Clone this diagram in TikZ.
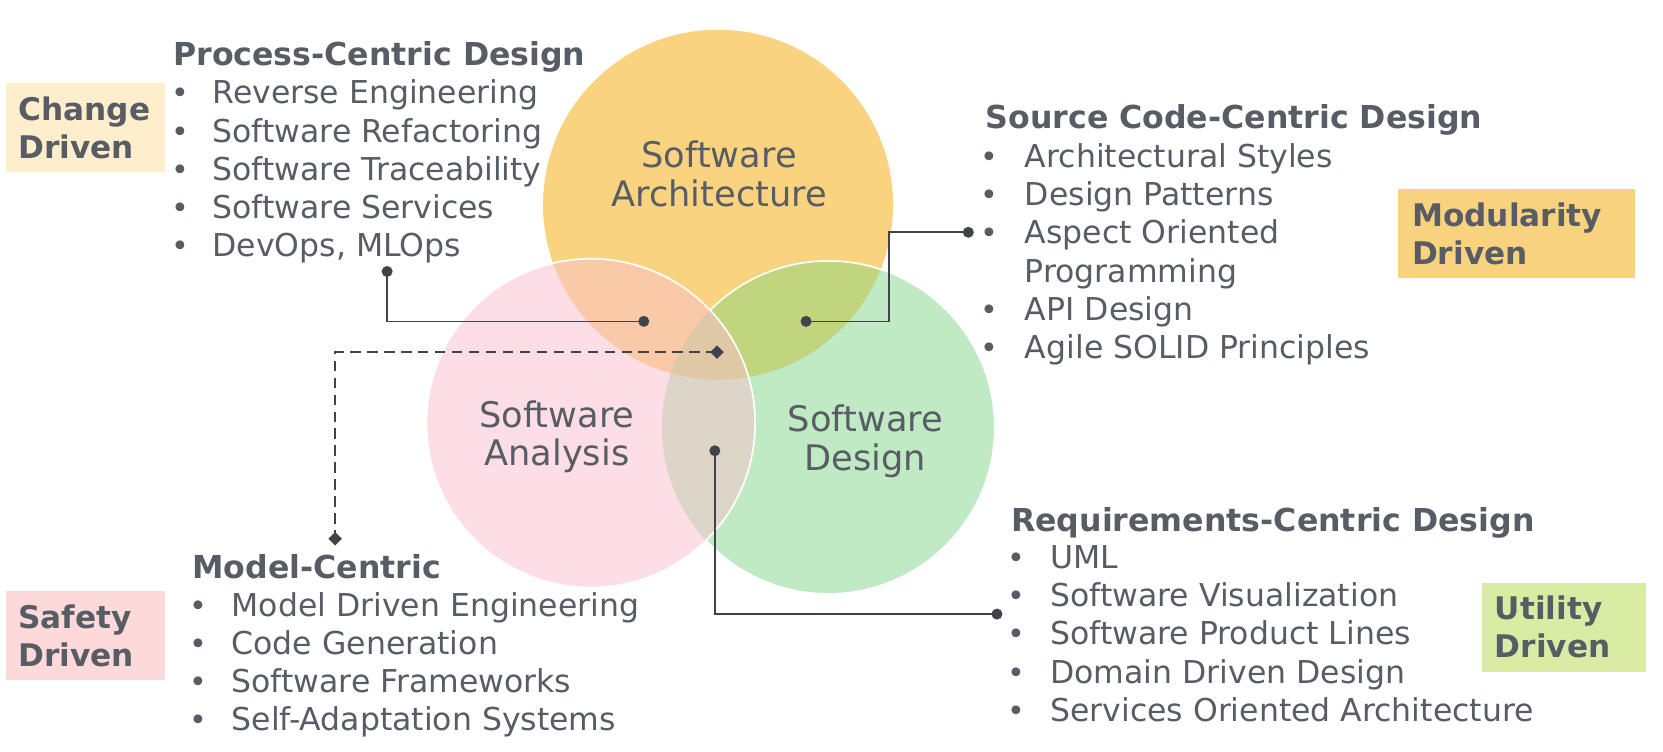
\documentclass[tikz,border=0pt]{standalone}
\usepackage{fontspec}
\setmainfont{DejaVu Sans}
\usetikzlibrary{shapes.geometric}
\definecolor{txt}{HTML}{585D65}
\definecolor{lnk}{HTML}{40444A}
\definecolor{cArch}{HTML}{FAD380}
\definecolor{cAna}{HTML}{FDDEE6}
\definecolor{cDes}{HTML}{C0EAC3}
\definecolor{cAA}{HTML}{FAC9A7}
\definecolor{cAD}{HTML}{C1D47E}
\definecolor{cNA}{HTML}{DED5C9}
\definecolor{cTri}{HTML}{DEC8A6}
\definecolor{bxChange}{HTML}{FEEECB}
\definecolor{bxMod}{HTML}{F9D27F}
\definecolor{bxSafe}{HTML}{FDD9D9}
\definecolor{bxUtil}{HTML}{DAEBA3}
\def\rArch{82.5pt}
\def\rAna{77.5pt}
\def\rDes{78.5pt}
\begin{document}
\begin{tikzpicture}[x=0.5pt,y=-0.5pt,
  itm/.style={anchor=base west,inner sep=0pt,text=txt,font=\fontsize{14.85}{18}\selectfont},
  bul/.style={anchor=base,inner sep=0pt,text=txt,font=\fontsize{14.2}{18}\selectfont},
  hdg/.style={anchor=base west,inner sep=0pt,text=txt,font=\fontsize{14.9}{18}\selectfont\bfseries},
  clab/.style={align=center,inner sep=0pt,text=txt,font=\fontsize{16.6}{18}\selectfont},
  drvbox/.style={anchor=north west,align=left,inner sep=0pt,text=txt,
     font=\fontsize{14.7}{18}\selectfont\bfseries,minimum height=42pt},
  dotnode/.style={circle,fill=lnk,inner sep=0pt,minimum size=5.2pt},
  dia/.style={diamond,fill=lnk,inner sep=0pt,minimum size=6.5pt},
  link/.style={draw=lnk,line width=0.8pt},
  dlink/.style={draw=lnk,line width=0.8pt,dash pattern=on 5pt off 3pt}]
\useasboundingbox (0,0) rectangle (1568,709);
\fill[white] (0,0) rectangle (1568,709);
% circles
\coordinate (arch) at (677,193);
\coordinate (ana) at (557,399);
\coordinate (des) at (781,403);
\fill[cArch] (arch) circle[radius=\rArch];
\fill[cDes] (des) circle[radius=\rDes];
\begin{scope}
  \clip (arch) circle[radius=\rArch];
  \fill[cAD] (des) circle[radius=\rDes];
\end{scope}
\draw[white,line width=0.8pt] (des) circle[radius=\rDes];
\fill[cAna] (ana) circle[radius=\rAna];
\begin{scope}
  \clip (ana) circle[radius=\rAna];
  \fill[cAA] (arch) circle[radius=\rArch];
  \fill[cNA] (des) circle[radius=\rDes];
  \clip (arch) circle[radius=\rArch];
  \fill[cTri] (des) circle[radius=\rDes];
\end{scope}
\draw[white,line width=0.8pt] (ana) circle[radius=\rAna];
% circle labels
\node[clab] (larch) at (678,164) {Software\\Architecture};
\node[clab] (lana) at (525,412) {Software\\Analysis};
\node[clab] (ldes) at (816,416) {Software\\Design};
% boxes
\node[drvbox,fill=bxChange,minimum width=75pt,text width=75pt] (bchange) at (5,78) {\hspace*{6pt}Change\\\hspace*{6pt}Driven};
\node[drvbox,fill=bxMod,minimum width=111.5pt,text width=111.5pt] (bmod) at (1318,178) {\hspace*{6.5pt}Modularity\\\hspace*{6.5pt}Driven};
\node[drvbox,fill=bxSafe,minimum width=75pt,text width=75pt] (bsafe) at (5,557) {\hspace*{6pt}Safety\\\hspace*{6pt}Driven};
\node[drvbox,fill=bxUtil,minimum width=77.5pt,text width=77.5pt] (butil) at (1397,549) {\hspace*{6pt}Utility\\\hspace*{6pt}Driven};
% Process-Centric
\node[hdg] (hproc) at (163,62) {Process-Centric Design};
\foreach \t [count=\i from 0] in {Reverse Engineering,Software Refactoring,Software Traceability,Software Services,{DevOps, MLOps}}{
  \node[bul] (pb\i) at (170,98+36*\i) {•};
  \node[itm] (pt\i) at (200,98+36*\i) {\t};
}
% Source Code-Centric
\node[hdg] (hsrc) at (929,121) {Source Code-Centric Design};
\foreach \t [count=\i from 0] in {Architectural Styles,Design Patterns,Aspect Oriented,API Design,Agile SOLID Principles}{
  \pgfmathtruncatemacro{\yy}{\i<3 ? 158+36*\i : 158+36*(\i+1)}
  \node[bul] (sb\i) at (933,\yy) {•};
  \node[itm] (st\i) at (966,\yy) {\t};
}
\node[itm] (stx) at (966,266) {Programming};
% Requirements-Centric
\node[hdg] (hreq) at (953,501) {Requirements-Centric Design};
\foreach \t [count=\i from 0] in {UML,Software Visualization,Software Product Lines,Domain Driven Design,Services Oriented Architecture}{
  \node[bul] (rb\i) at (958,536+36*\i) {•};
  \node[itm] (rt\i) at (990,536+36*\i) {\t};
}
% Model-Centric
\node[hdg] (hmod) at (181,545) {Model-Centric};
\foreach \t [count=\i from 0] in {Model Driven Engineering,Code Generation,Software Frameworks,Self-Adaptation Systems}{
  \node[bul] (mb\i) at (187,581+36*\i) {•};
  \node[itm] (mt\i) at (218,581+36*\i) {\t};
}
% connectors
\node[dotnode] (d1a) at (365,256) {};
\node[dotnode] (d1b) at (607,303) {};
\draw[link] (d1a.center) |- (d1b.center);
\node[dotnode] (d2a) at (760,303) {};
\node[dotnode] (d2b) at (913,219) {};
\coordinate (k2) at (838,303);
\draw[link] (d2a.center) -- (k2) |- (d2b.center);
\node[dia] (m1) at (676,332) {};
\node[dia] (m2) at (316,508) {};
\draw[dlink] (m1.center) -| (m2.center);
\node[dotnode] (d4a) at (674,425) {};
\node[dotnode] (d4b) at (940,579) {};
\draw[link] (d4a.center) |- (d4b.center);
\end{tikzpicture}
\end{document}
